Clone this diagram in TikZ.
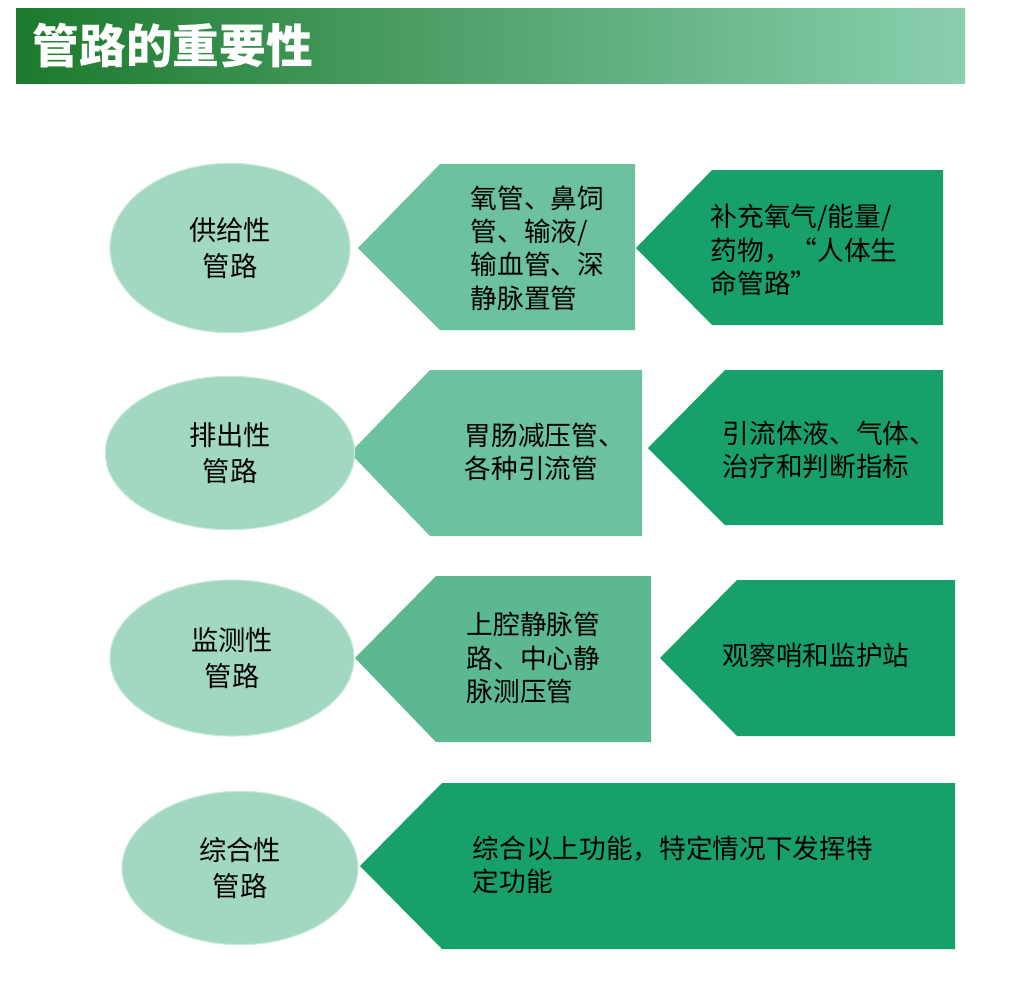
\documentclass[tikz,border=0pt]{standalone}
\usepackage{fontspec}
\setmainfont{Noto Sans CJK SC}
\usepackage{tikz}
\usetikzlibrary{positioning,shapes.geometric}
\definecolor{ovalfill}{HTML}{A2D8C1}
\definecolor{ovaledge}{HTML}{C6E9DA}
\definecolor{midfill}{HTML}{6CC19F}
\definecolor{midfilldk}{HTML}{5CB891}
\definecolor{darkfill}{HTML}{18A06A}
\definecolor{barleft}{HTML}{1C7A2C}
\definecolor{barright}{HTML}{8ACFB0}
% left pointing boxes: tip x, tip y, body left, body right, top, bottom, colour
\newcommand{\tagbox}[7]{\fill[#7] (#1,#2) -- (#3,#5) -- (#4,#5) -- (#4,#6) -- (#3,#6) -- cycle;}

\begin{document}
\begin{tikzpicture}[x=0.75pt,y=-0.75pt,
        oval/.style={ellipse,draw=ovaledge,thick,fill=ovalfill,inner sep=0pt,font=\fontsize{20.5}{27}\selectfont,align=center},
        txt/.style={font=\fontsize{20}{25}\selectfont,align=left,anchor=west}]
        \useasboundingbox (0,0) rectangle (1021,993);
        % title bar
        \shade[left color=barleft,right color=barright] (16,8) rectangle (965,83);
        \node[anchor=west,text=white,font=\fontsize{35}{40}\selectfont\bfseries] (title) at (28,46) {管路的重要性};
        \tagbox{358}{248}{440}{635}{164}{330}{midfill}
        \tagbox{636}{248}{712}{943}{170}{325}{darkfill}
        \tagbox{350}{453}{430}{642}{370}{536}{midfill}
        \tagbox{648}{448}{725}{943}{370}{525}{darkfill}
        \tagbox{355}{658}{436}{651}{576}{742}{midfilldk}
        \tagbox{660}{658}{737}{955}{580}{736}{darkfill}
        \tagbox{360}{866}{442}{955}{783}{949}{darkfill}
        % ovals
        \node[oval,minimum width=180pt,minimum height=127pt] (supply) at (230,248) {供给性\\管路};
        \node[oval,minimum width=187pt,minimum height=115pt] (drain) at (230,453) {排出性\\管路};
        \node[oval,minimum width=183pt,minimum height=117pt] (monitor) at (232,658) {监测性\\管路};
        \node[oval,minimum width=177pt,minimum height=115pt] (mixed) at (240,868) {综合性\\管路};
        % texts
        \node[txt] (supplyA) at (466,248) {氧管、鼻饲\\管、输液/\\输血管、深\\静脉置管};
        \node[txt] (supplyB) at (706,250) {补充氧气/能量/\\药物，“人体生\\命管路”};
        \node[txt] (drainA) at (460,452) {胃肠减压管、\\各种引流管};
        \node[txt] (drainB) at (718,450) {引流体液、气体、\\治疗和判断指标};
        \node[txt] (monitorA) at (462,658) {上腔静脉管\\路、中心静\\脉测压管};
        \node[txt] (monitorB) at (718,655) {观察哨和监护站};
        \node[txt] (mixedA) at (468,865) {综合以上功能，特定情况下发挥特\\定功能};
    \end{tikzpicture}
\end{document}
